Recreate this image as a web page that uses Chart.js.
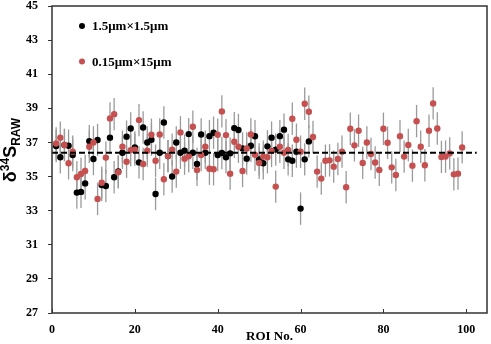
<!DOCTYPE html>
<html>
<head>
<meta charset="utf-8">
<script src="https://cdn.jsdelivr.net/npm/chart.js@4"></script>
<style>
  html, body { margin: 0; padding: 0; background: #fff; }
  #wrap { width: 491px; height: 344px; }
</style>
</head>
<body>
<div id="wrap"><canvas id="chart" width="491" height="344"></canvas></div>
<script>
// ROI numbers
const roiNo = [1,2,3,4,5,6,7,8,9,10,11,12,13,14,15,16,17,18,19,20,21,22,23,24,25,26,27,28,29,30,
  31,32,33,34,35,36,37,38,39,40,41,42,43,44,45,46,47,48,49,50,51,52,53,54,55,56,57,58,59,60,
  61,62,63,64,65,66,67,68,69,70,71,72,73,74,75,76,77,78,79,80,81,82,83,84,85,86,87,88,89,90,
  91,92,93,94,95,96,97,98,99]

// 1.5um x 1.5um (ROI 1-62)
const squareVals = [36.79,36.13,36.85,36.81,36.26,34.06,34.10,34.60,37.08,36.03,
  37.14,34.50,34.45,37.28,34.96,35.30,36.40,37.34,37.82,36.70,
  35.83,37.88,37.00,37.16,33.98,36.40,38.17,36.20,35.00,37.00,
  36.40,36.52,37.49,36.40,35.74,37.47,36.40,37.37,37.57,36.26,
  36.38,36.13,36.36,37.84,37.73,36.65,36.05,36.81,37.36,36.01,
  35.78,36.77,37.28,36.58,37.37,37.75,36.01,35.93,36.46,33.12,
  36.01,37.06]

// 0.15um x 15um (ROI 1-99)
const lineVals = [36.94,37.28,36.85,35.78,36.46,34.96,35.15,35.33,36.75,37.00,
  33.69,34.64,36.11,38.41,38.66,35.25,36.75,35.87,36.55,36.58,
  38.31,35.74,36.52,37.45,35.93,37.47,34.84,36.20,36.58,35.29,
  37.59,36.05,36.19,37.92,35.39,36.26,36.75,35.46,35.43,37.45,
  38.82,37.43,35.17,37.04,36.75,35.33,36.65,37.47,36.28,35.80,
  36.17,36.13,36.50,34.41,36.75,36.40,36.56,38.39,37.16,36.46,
  39.27,38.80,37.32,35.29,34.88,35.93,35.95,35.58,36.03,36.46,
  34.37,37.80,36.83,37.69,35.80,37.00,36.32,35.82,35.39,37.80,
  36.98,35.54,35.09,37.37,36.17,36.85,35.64,38.25,36.75,35.66,
  37.69,39.29,37.82,36.15,36.17,36.36,35.13,35.17,36.71]

const errSize = 0.95      // +/- error bar
const meanLine = 36.4     // dashed reference
const meanLineEnd = 102.5
const xTicks = [0,20,40,60,80,100]
const yTicks = [27,29,31,33,35,37,39,41,43,45]
const legendLabels = ['1.5\u03bcm\u00d71.5\u03bcm', '0.15\u03bcm\u00d715\u03bcm']

const BLACK = '#000000'
const RED = '#c5504f'
const serif = '"Liberation Serif", "Times New Roman", serif'

const toPts = (vals) => vals.map((v, i) => ({ x: roiNo[i], y: v }))

//=============== error bars, x ticks, frame, legend, y title ===============
const extras = {
  id: 'extras',
  beforeDatasetsDraw(chart) {
    const { ctx, scales: { x, y } } = chart
    ctx.save()
    ctx.strokeStyle = '#9a9a9a'
    ctx.lineWidth = 1.3
    ;[squareVals, lineVals].forEach(vals => {
      vals.forEach((v, i) => {
        const px = x.getPixelForValue(roiNo[i])
        ctx.beginPath()
        ctx.moveTo(px, y.getPixelForValue(v - errSize))
        ctx.lineTo(px, y.getPixelForValue(v + errSize))
        ctx.stroke()
      })
    })
    ctx.restore()
  },
  afterDraw(chart) {
    const { ctx, chartArea: a, scales: { x, y } } = chart
    ctx.save()
    // frame
    ctx.strokeStyle = '#333'
    ctx.lineWidth = 1.5
    ctx.strokeRect(a.left, a.top, a.right - a.left, a.bottom - a.top)
    // x ticks pointing inward
    ctx.lineWidth = 1
    xTicks.forEach(t => {
      const px = Math.round(x.getPixelForValue(t)) + 0.5
      ctx.beginPath()
      ctx.moveTo(px, a.bottom)
      ctx.lineTo(px, a.bottom - 4)
      ctx.stroke()
    })
    // legend
    const colors = [BLACK, RED]
    const rows = [26, 61.5]
    ctx.font = 'bold 13px ' + serif
    ctx.textBaseline = 'middle'
    ctx.textAlign = 'left'
    legendLabels.forEach((lab, i) => {
      ctx.fillStyle = colors[i]
      ctx.beginPath()
      ctx.arc(82, rows[i], 3, 0, Math.PI * 2)
      ctx.fill()
      ctx.fillStyle = '#000'
      ctx.fillText(lab, 92, rows[i] + 1)
    })
    // y title: delta 34 S RAW, rotated
    ctx.translate(16, 150)
    ctx.rotate(-Math.PI / 2)
    ctx.fillStyle = '#000'
    ctx.textBaseline = 'alphabetic'
    const big = 'bold 18px "Liberation Sans", Arial, sans-serif'
    const small = 'bold 12px "Liberation Sans", Arial, sans-serif'
    const parts = [
      { t: '\u03b4', f: big, dy: 0 },
      { t: '34', f: small, dy: -7 },
      { t: 'S', f: big, dy: 0 },
      { t: 'RAW', f: small, dy: 4 }
    ]
    let w = 0
    parts.forEach(p => { ctx.font = p.f; w += ctx.measureText(p.t).width })
    let cx = -w / 2
    parts.forEach(p => {
      ctx.font = p.f
      ctx.fillText(p.t, cx, p.dy)
      cx += ctx.measureText(p.t).width
    })
    ctx.restore()
  }
}

const ctx = document.getElementById('chart').getContext('2d')
new Chart(ctx, {
  type: 'scatter',
  data: {
    datasets: [
      {
        type: 'line',
        label: 'mean',
        data: [{ x: 0, y: meanLine }, { x: meanLineEnd, y: meanLine }],
        borderColor: '#000',
        borderWidth: 2,
        borderDash: [6, 3],
        pointRadius: 0,
        fill: false,
        order: 0
      },
      {
        label: legendLabels[1],
        data: toPts(lineVals),
        backgroundColor: RED,
        borderWidth: 0,
        pointRadius: 3.2,
        order: 1
      },
      {
        label: legendLabels[0],
        data: toPts(squareVals),
        backgroundColor: BLACK,
        borderWidth: 0,
        pointRadius: 3.2,
        order: 2
      }
    ]
  },
  options: {
    responsive: false,
    animation: false,
    devicePixelRatio: 1,
    layout: { padding: { top: 6, right: 3, left: 0, bottom: 0 } },
    plugins: {
      legend: { display: false },
      tooltip: { enabled: false }
    },
    scales: {
      x: {
        type: 'linear',
        min: 0,
        max: 105,
        afterBuildTicks: s => { s.ticks = xTicks.map(v => ({ value: v })) },
        afterFit: s => { s.height = 31; s.paddingLeft = 0; s.paddingRight = 0 },
        grid: { display: false, drawTicks: false },
        border: { display: false },
        ticks: {
          padding: 10,
          color: '#000',
          font: { family: serif, size: 12, weight: 'bold' },
          maxRotation: 0
        },
        title: {
          display: true,
          text: 'ROI No.',
          color: '#000',
          padding: { top: -3, bottom: 0 },
          font: { family: serif, size: 13, weight: 'bold' }
        }
      },
      y: {
        min: 27,
        max: 45,
        afterBuildTicks: s => { s.ticks = yTicks.map(v => ({ value: v })) },
        afterFit: s => { s.width = 52; s.paddingTop = 0; s.paddingBottom = 0 },
        grid: { drawOnChartArea: false, drawTicks: true, tickLength: 4, tickColor: '#333', tickWidth: 1 },
        border: { display: false },
        ticks: {
          padding: 10,
          color: '#000',
          font: { family: serif, size: 12, weight: 'bold' }
        }
      }
    }
  },
  plugins: [extras]
})
</script>
</body>
</html>
